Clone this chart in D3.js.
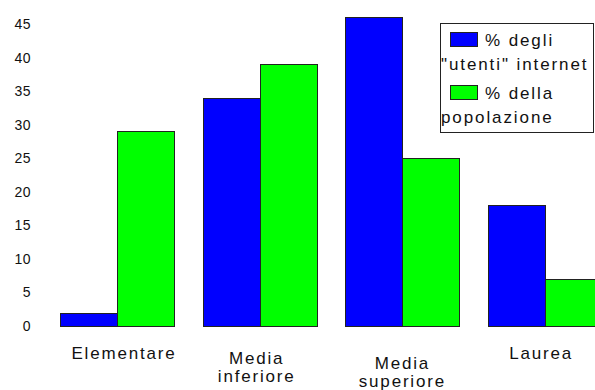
<!DOCTYPE html>
<html>
<head>
<meta charset="utf-8">
<script src="https://cdn.jsdelivr.net/npm/d3@7"></script>
<style>
  html, body { margin: 0; padding: 0; background: #fff; }
  svg { display: block; }
  text { font-family: "Liberation Sans", Arial, sans-serif; fill: #111; }
</style>
</head>
<body>
<script>
// Level of education
const categories = ["Elementare", "Media inferiore", "Media superiore", "Laurea"];
// Share of internet users and of the whole population, in percent
const internetUsers = [2, 34, 46, 18];
const population = [29, 39, 25, 7];
const seriesKeys = ["internet", "popolazione"];
const seriesColors = ["#0000ff", "#00ff00"];
const legendLines = [["% degli", "\"utenti\" internet"], ["% della", "popolazione"]];
const yTicks = [0, 5, 10, 15, 20, 25, 30, 35, 40, 45];

const W = 595, H = 390;
const svg = d3.select("body").append("svg").attr("width", W).attr("height", H);

const x = d3.scaleBand().domain(categories).range([45.6, 616.4])
  .paddingInner(0.2).paddingOuter(0.1);
const x1 = d3.scaleBand().domain(seriesKeys).range([0, x.bandwidth()]);
const y = d3.scaleLinear().domain([0, 45]).range([326, 24]);

const rows = categories.map((c, i) => ({
  cat: c,
  vals: [
    { key: seriesKeys[0], v: internetUsers[i], color: seriesColors[0] },
    { key: seriesKeys[1], v: population[i], color: seriesColors[1] }
  ]
}));

// Grouped bars
const g = svg.append("g").attr("shape-rendering", "crispEdges");
g.selectAll("g.grp").data(rows).join("g")
  .attr("class", "grp")
  .selectAll("rect").data(d => d.vals.map(v => ({ ...v, cat: d.cat }))).join("rect")
  .attr("x", d => Math.round(x(d.cat) + x1(d.key)) + 0.5)
  .attr("y", d => Math.round(y(d.v)) + 0.5)
  .attr("width", Math.round(x1.bandwidth()))
  .attr("height", d => Math.round(y(0)) - Math.round(y(d.v)))
  .attr("fill", d => d.color)
  .attr("stroke", "#222")
  .attr("stroke-width", 1);

// Value axis: tick labels only
const yAxis = svg.append("g").attr("transform", "translate(34,0)")
  .call(d3.axisLeft(y).tickValues(yTicks).tickSize(0).tickPadding(3));
yAxis.select(".domain").remove();
yAxis.selectAll("text")
  .attr("font-size", 14).attr("font-family", "Liberation Sans, Arial, sans-serif")
  .attr("fill", "#111").style("letter-spacing", "0.5px");

// Category labels, split onto lines at the space, slightly staggered
const labelDx = [7, -3, 0, -4];
const labelDy = [0, 5, 10, 0];
const xAxis = svg.append("g").attr("transform", "translate(0,339)")
  .call(d3.axisBottom(x).tickSize(0).tickPadding(0));
xAxis.select(".domain").remove();
xAxis.selectAll(".tick text").each(function (d, i) {
  const t = d3.select(this).text(null)
    .attr("y", 0).attr("dy", null)
    .attr("font-size", 17).attr("font-family", "Liberation Sans, Arial, sans-serif")
    .attr("fill", "#111").style("letter-spacing", "1.8px");
  d.split(" ").forEach((w, k) => {
    t.append("tspan").attr("x", labelDx[i]).attr("y", 20 + labelDy[i] + k * 18).text(w);
  });
});

// Legend
const lg = svg.append("g");
lg.append("rect").attr("x", 440.5).attr("y", 23.5).attr("width", 153).attr("height", 109)
  .attr("fill", "#fff").attr("stroke", "#222").attr("shape-rendering", "crispEdges");
const entryTop = [32, 85];
legendLines.forEach((lines, i) => {
  lg.append("rect").attr("x", 450.5).attr("y", entryTop[i] + 0.5).attr("width", 27).attr("height", 14)
    .attr("fill", seriesColors[i]).attr("stroke", "#222").attr("shape-rendering", "crispEdges");
  lg.append("text").attr("x", 485).attr("y", entryTop[i] + 14).text(lines[0])
    .attr("font-size", 17).style("letter-spacing", "1.9px");
  lg.append("text").attr("x", 441).attr("y", entryTop[i] + 38).text(lines[1])
    .attr("font-size", 17).style("letter-spacing", "1.9px");
});
</script>
</body>
</html>
